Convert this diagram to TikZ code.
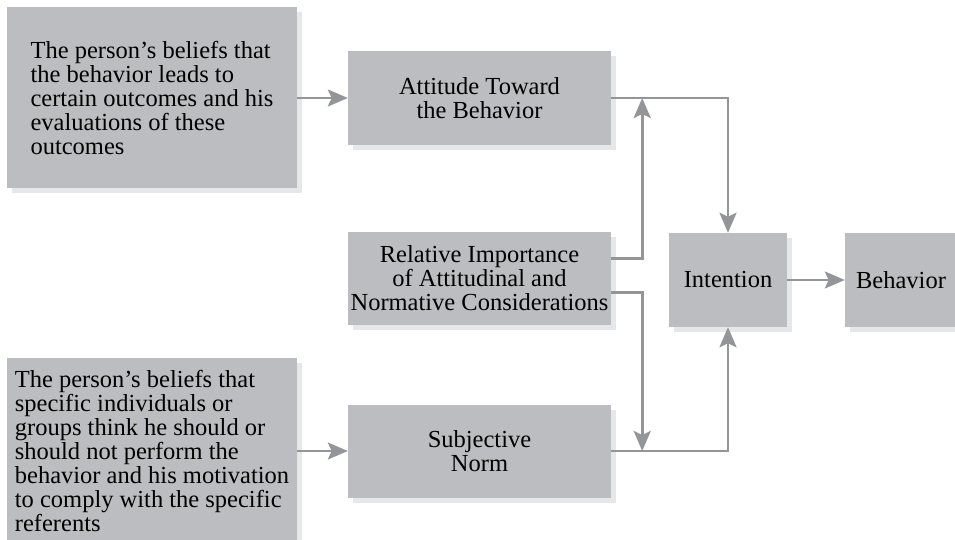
\documentclass[tikz,border=0pt]{standalone}
\usepackage{fontspec}
\setmainfont{Liberation Serif}
\usetikzlibrary{arrows.meta,positioning,shadows}
\definecolor{boxgray}{RGB}{188,189,192}
\definecolor{shadegray}{RGB}{230,231,232}
\definecolor{linegray}{RGB}{147,149,152}
\tikzset{
  gbox/.style={fill=boxgray, inner sep=0pt, align=center,
    font=\fontsize{24.5}{24}\selectfont,
    drop shadow={shadow xshift=5pt, shadow yshift=-5pt, fill=shadegray, opacity=1}},
  lbox/.style={gbox, align=left},
  carr/.style={-{Stealth[length=20pt,width=17pt,inset=4pt]}, linegray, line width=2.8pt},
}

\begin{document}
\begin{tikzpicture}[x=1pt,y=-1pt]
  \path[use as bounding box, clip] (0,0) rectangle (955,540);
  % belief boxes
  \node[lbox, minimum width=290pt, minimum height=181pt] (bel1) at (152,98)
    {The person’s beliefs that\\the behavior leads to\\certain outcomes and his\\evaluations of these\\outcomes};
  \node[lbox, minimum width=290pt, minimum height=187pt] (bel2) at (152,451)
    {The person’s beliefs that\\specific individuals or\\groups think he should or\\should not perform the\\behavior and his motivation\\to comply with the specific\\referents};
  % middle column
  \node[gbox, minimum width=263pt, minimum height=94pt] (att) at (479.5,98) {Attitude Toward\\the Behavior};
  \node[gbox, minimum width=263pt, minimum height=93pt] (rel) at (479.5,278.5) {Relative Importance\\of Attitudinal and\\Normative Considerations};
  \node[gbox, minimum width=263pt, minimum height=93pt] (norm) at (479.5,451) {Subjective\\Norm};
  % right column
  \node[gbox, minimum width=118pt, minimum height=94pt] (intent) at (728,280) {Intention};
  \node[gbox, minimum width=112pt, minimum height=94pt] (behav) at (901,280) {Behavior};
  \coordinate (jt) at ([xshift=31pt]att.east);
  \coordinate (jb) at ([xshift=31pt]norm.east);
  \draw[carr] (bel1.east) -- (att.west);
  \draw[carr] (bel2.east) -- (norm.west);
  \draw[carr] (att.east) -| (intent.north);
  \draw[carr] (norm.east) -| (intent.south);
  \draw[carr] ([yshift=20pt]rel.east) -| (jt);
  \draw[carr] ([yshift=-14pt]rel.east) -| (jb);
  \draw[carr] (intent.east) -- (behav.west);
\end{tikzpicture}
\end{document}
